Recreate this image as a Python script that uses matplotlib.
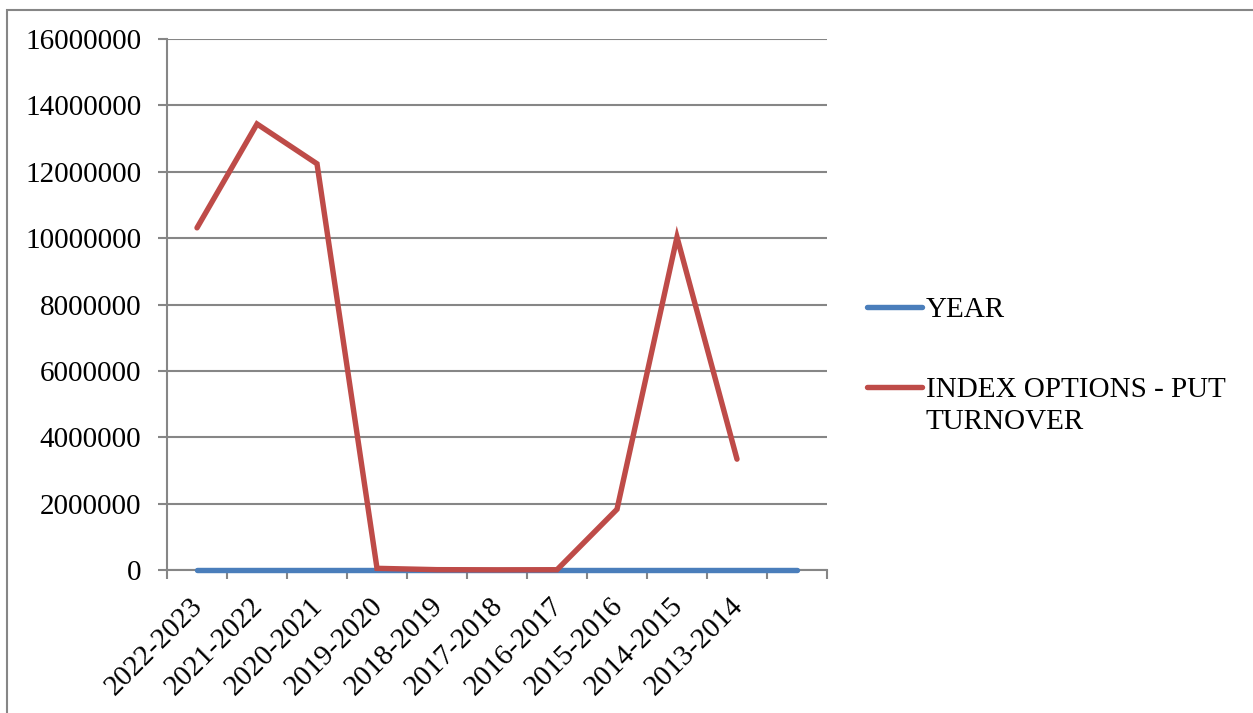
import matplotlib.pyplot as plt
import matplotlib.ticker as mticker
import matplotlib.transforms as mtransforms
from matplotlib.lines import Line2D
from matplotlib.patches import Rectangle
import numpy as np

years = ['2022-2023', '2021-2022', '2020-2021', '2019-2020', '2018-2019',
         '2017-2018', '2016-2017', '2015-2016', '2014-2015', '2013-2014', '']
year_series = [0, 0, 0, 0, 0, 0, 0, 0, 0, 0, 0]
put_turnover = [10310000, 13440000, 12240000, 50000, 10000,
                5000, 8000, 1830000, 10030000, 3340000]

BLUE = '#4a7ebb'
RED = '#be4b48'
GRID = '#868686'
LW = 3.9

plt.rcParams['font.family'] = ['Liberation Serif', 'DejaVu Serif']

W, H = 1253, 713
fig = plt.figure(figsize=(W / 100, H / 100), dpi=100)

# outer chart frame
fig.add_artist(Rectangle((7 / W, -0.1), 1.2, 1 - 10 / H + 0.1, transform=fig.transFigure,
                         fill=False, edgecolor=GRID, linewidth=1.5))

ax = fig.add_axes([167 / W, 1 - 570 / H, (827 - 167) / W, (570 - 39) / H])

x = np.arange(len(years))
ax.plot(x, year_series, color=BLUE, linewidth=LW, solid_capstyle='round',
        zorder=5, clip_on=False)
ax.plot(x[:len(put_turnover)], put_turnover, color=RED, linewidth=LW,
        solid_capstyle='round', solid_joinstyle='miter', zorder=6, clip_on=False)

ax.set_xlim(-0.5, len(years) - 0.5)
ax.set_ylim(0, 16000000)
ax.set_yticks(np.arange(0, 16000001, 2000000))
ax.yaxis.set_major_formatter(mticker.FuncFormatter(lambda v, p: f'{int(v)}'))
ax.grid(axis='y', color=GRID, linewidth=1.5)
ax.set_axisbelow(True)

for side in ['top', 'right']:
    ax.spines[side].set_visible(False)
for side in ['left', 'bottom']:
    ax.spines[side].set_color(GRID)
    ax.spines[side].set_linewidth(1.5)

ax.tick_params(axis='y', length=6.5, width=1.5, color=GRID, pad=12, labelsize=21)

# category boundaries get tick marks, centers get the labels
ax.set_xticks(np.arange(-0.5, len(years), 1.0))
ax.set_xticklabels([])
ax.tick_params(axis='x', which='major', length=6.5, width=1.5, color=GRID)
ax.set_xticks(x, minor=True)
ax.set_xticklabels(years, minor=True, rotation=45, ha='right', va='center',
                   rotation_mode='anchor', fontsize=21)
ax.tick_params(axis='x', which='minor', length=0, pad=23)
shift = mtransforms.ScaledTranslation(2 / 100, 0, fig.dpi_scale_trans)
for lbl in ax.get_xticklabels(minor=True):
    lbl.set_transform(lbl.get_transform() + shift)

# legend on the right
def legend_entry(y_px, color, lines):
    fig.add_artist(Line2D([867 / W, 922 / W], [1 - y_px / H] * 2, transform=fig.transFigure,
                          color=color, linewidth=LW, solid_capstyle='round'))
    fig.text(926 / W, 1 - (y_px - 10) / H, lines, fontsize=21, va='top', ha='left',
             linespacing=1.3, transform=fig.transFigure)

legend_entry(307, BLUE, 'YEAR')
legend_entry(387, RED, 'INDEX OPTIONS - PUT\nTURNOVER')

fig.savefig('out.png', dpi=100)
